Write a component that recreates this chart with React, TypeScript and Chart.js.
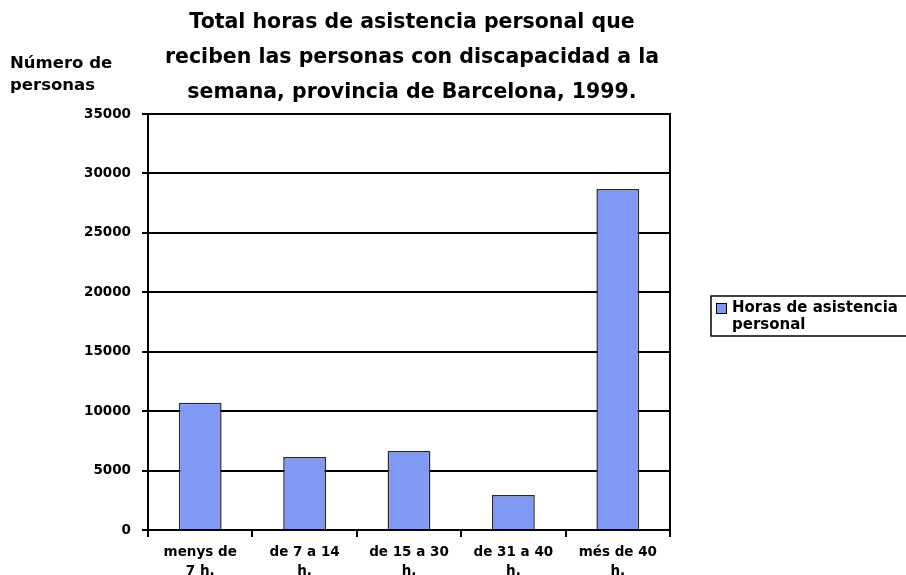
import React, { useEffect, useRef } from "react";
import { Chart, registerables } from "chart.js";

Chart.register(...registerables);

const categories: string[][] = [
  ["menys de", "7 h."],
  ["de 7 a 14", "h."],
  ["de 15 a 30", "h."],
  ["de 31 a 40", "h."],
  ["més de 40", "h."],
];
const values: number[] = [10700, 6150, 6650, 2950, 28700];
const seriesLabel = "Horas de asistencia personal";
const legendLines: string[] = ["Horas de asistencia", "personal"];
const titleLines: string[] = [
  "Total horas de asistencia personal que",
  "reciben las personas con discapacidad a la",
  "semana, provincia de Barcelona, 1999.",
];
const yTitleLines: string[] = ["Número de", "personas"];
const yMin = 0;
const yMax = 35000;
const yStep = 5000;

const FONT = "'DejaVu Sans', Verdana, sans-serif";
const BAR_COLOR = "#7f99f5";

const decorPlugin = {
  id: "decor",
  afterDraw(chart: any) {
    const ctx = chart.ctx as CanvasRenderingContext2D;
    const a = chart.chartArea;
    ctx.save();
    // right border of plot
    ctx.strokeStyle = "#000";
    ctx.lineWidth = 2;
    ctx.beginPath();
    ctx.moveTo(a.right, a.top - 1);
    ctx.lineTo(a.right, a.bottom);
    ctx.stroke();

    ctx.fillStyle = "#000";
    // title
    ctx.font = `bold 20.5px ${FONT}`;
    ctx.textAlign = "center";
    ctx.textBaseline = "middle";
    titleLines.forEach((t, i) => ctx.fillText(t, 412, 23 + i * 35));

    // y title
    ctx.font = `bold 16.5px ${FONT}`;
    ctx.textAlign = "left";
    yTitleLines.forEach((t, i) => ctx.fillText(t, 10, 64 + i * 22));

    // legend
    ctx.lineWidth = 1.5;
    ctx.strokeStyle = "#000";
    ctx.strokeRect(711, 296, 210, 40);
    ctx.fillStyle = BAR_COLOR;
    ctx.fillRect(716, 303, 10, 10);
    ctx.lineWidth = 1;
    ctx.strokeRect(716.5, 303.5, 10, 10);
    ctx.fillStyle = "#000";
    ctx.font = `bold 15px ${FONT}`;
    legendLines.forEach((t, i) => ctx.fillText(t, 732, 308 + i * 17));
    ctx.restore();
  },
};

export default function App() {
  const ref = useRef<HTMLCanvasElement>(null);
  useEffect(() => {
    if (!ref.current) return;
    const chart = new Chart(ref.current, {
      type: "bar",
      data: {
        labels: categories,
        datasets: [
          {
            label: seriesLabel,
            data: values,
            backgroundColor: BAR_COLOR,
            borderColor: "#2a2a2a",
            borderWidth: 1.5,
            barPercentage: 0.41,
            categoryPercentage: 1,
          },
        ],
      },
      options: {
        animation: false,
        responsive: false,
        layout: { padding: { left: 0, right: 236, top: 114, bottom: 0 } },
        plugins: {
          legend: { display: false },
          title: { display: false },
          tooltip: { enabled: false },
        },
        scales: {
          x: {
            afterFit: (s: any) => {
              s.height = 45;
            },
            grid: {
              offset: true,
              drawOnChartArea: false,
              drawTicks: true,
              tickLength: 7,
              color: "#000",
              lineWidth: 2,
            },
            border: { color: "#000", width: 2 },
            ticks: {
              color: "#000",
              padding: 6,
              maxRotation: 0,
              autoSkip: false,
              font: { family: FONT, size: 13.5, weight: "bold", lineHeight: 1.4 },
            },
          },
          y: {
            min: yMin,
            max: yMax,
            afterFit: (s: any) => {
              s.width = 148;
            },
            grid: {
              color: "#000",
              lineWidth: 2,
              tickLength: 6,
            },
            border: { color: "#000", width: 2 },
            ticks: {
              stepSize: yStep,
              color: "#000",
              padding: 11,
              callback: (v: any) => String(v),
              font: { family: FONT, size: 13.5, weight: "bold" },
            },
          },
        },
      },
      plugins: [decorPlugin],
    });
    return () => chart.destroy();
  }, []);
  return (
    <div style={{ position: "absolute", left: 0, top: 0, width: 906, height: 575, background: "#fff" }}>
      <canvas ref={ref} width={906} height={575} style={{ display: "block" }} />
    </div>
  );
}
